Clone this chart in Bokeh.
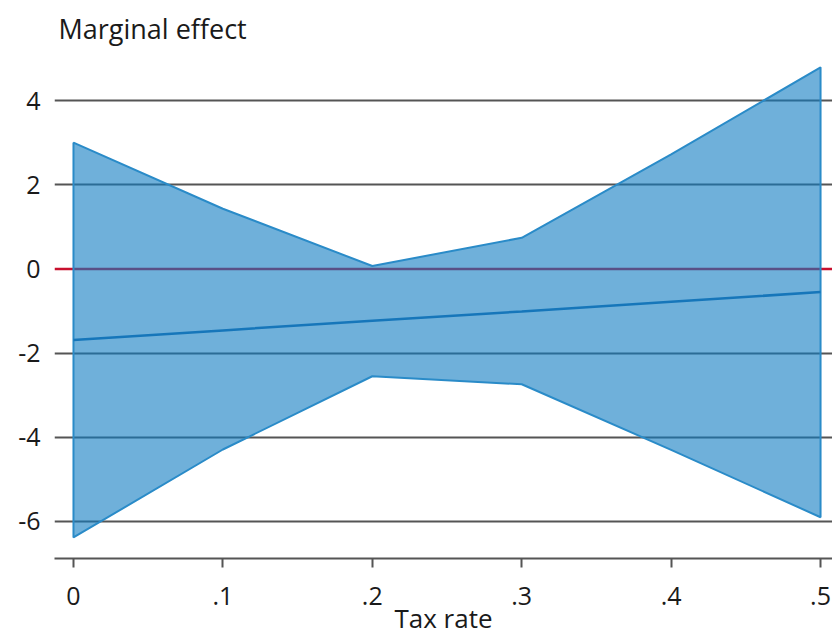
from bokeh.plotting import figure
from bokeh.models import Range1d, FixedTicker, Span, ColumnDataSource
from bokeh.embed import file_html
from bokeh.resources import INLINE

# Data
tax_rate = [0.0, 0.1, 0.2, 0.3, 0.4, 0.5]
effect = [-1.69, -1.46, -1.23, -1.01, -0.78, -0.55]
upper = [3.00, 1.43, 0.07, 0.74, 2.72, 4.79]
lower = [-6.38, -4.29, -2.55, -2.74, -4.30, -5.90]
x_ticks = [0.0, 0.1, 0.2, 0.3, 0.4, 0.5]
x_tick_labels = ["0", ".1", ".2", ".3", ".4", ".5"]
y_ticks = [-6, -4, -2, 0, 2, 4]
y_tick_labels = ["-6", "-4", "-2", "0", "2", "4"]

FONT = "Open Sans"
BLUE = "#0f7bc1"

p = figure(width=832, height=638, output_backend="svg", toolbar_location=None,
           x_range=Range1d(-0.0127, 0.508), y_range=Range1d(-6.88, 5.19),
           title="Marginal effect",
           min_border_left=54, min_border_right=0, min_border_top=50, min_border_bottom=0)
p.outline_line_color = None
p.background_fill_color = "white"
p.border_fill_color = "white"

p.title.text_font = FONT
p.title.text_font_size = "27px"
p.title.text_font_style = "normal"
p.title.text_color = "#1a1a1a"
p.title.align = "left"
p.title.vertical_align = "top"
p.title.offset = 4
p.title.standoff = 3

# grid
p.xgrid.grid_line_color = None
p.ygrid.ticker = FixedTicker(ticks=[t for t in y_ticks if t != 0])
p.ygrid.grid_line_color = "#555555"
p.ygrid.grid_line_width = 2

zero = Span(location=0, dimension="width", line_color="#c8102e", line_width=2.5, level="underlay")
p.add_layout(zero)

# band
band_x = tax_rate + tax_rate[::-1]
band_y = upper + lower[::-1]
p.patch(band_x, band_y, fill_color=BLUE, fill_alpha=0.6,
        line_color="#2a8bc8", line_width=2)

src = ColumnDataSource(dict(x=tax_rate, y=effect))
p.line("x", "y", source=src, line_color="#1676ba", line_width=2.5)

# axes
p.xaxis.ticker = FixedTicker(ticks=x_ticks)
p.xaxis.major_label_overrides = {t: l for t, l in zip(x_ticks, x_tick_labels)}
p.xaxis.axis_label = "Tax rate"
p.xaxis.axis_line_color = "#555555"
p.xaxis.axis_line_width = 2
p.xaxis.major_tick_line_color = "#555555"
p.xaxis.major_tick_line_width = 2
p.xaxis.major_tick_out = 9
p.xaxis.major_tick_in = 0
p.xaxis.minor_tick_line_color = None
p.xaxis.major_label_standoff = 19
p.xaxis.axis_label_standoff = -8

p.yaxis.ticker = FixedTicker(ticks=y_ticks)
p.yaxis.major_label_overrides = {t: l for t, l in zip(y_ticks, y_tick_labels)}
p.yaxis.axis_line_color = None
p.yaxis.major_tick_line_color = None
p.yaxis.minor_tick_line_color = None
p.yaxis.major_tick_out = 0
p.yaxis.major_label_standoff = 14

for ax in (p.xaxis, p.yaxis):
    ax.major_label_text_font = FONT
    ax.major_label_text_font_size = "25px"
    ax.major_label_text_color = "#1a1a1a"
    ax.axis_label_text_font = FONT
    ax.axis_label_text_font_size = "26px"
    ax.axis_label_text_font_style = "normal"
    ax.axis_label_text_color = "#1a1a1a"

open("out.html", "w").write(file_html(p, INLINE))
